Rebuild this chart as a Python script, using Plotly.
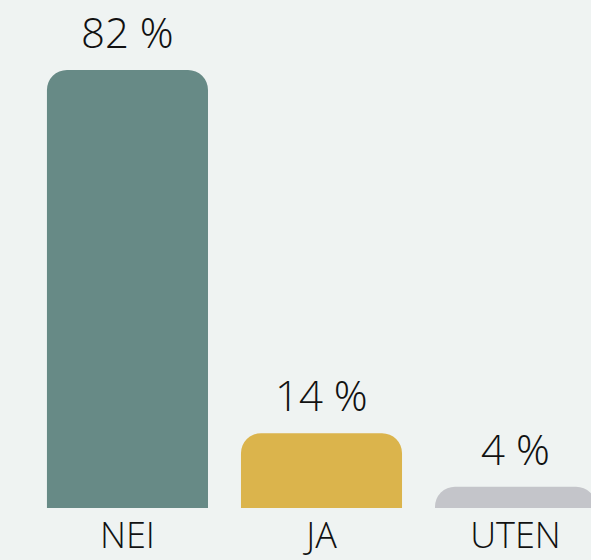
import plotly.graph_objects as go

categories = ["NEI", "JA", "UTEN"]
values = [82, 14, 4]
labels = ["82 %", "14 %", "4 %"]
colors = ["#678a86", "#dbb44c", "#c4c5ca"]

FONT = "Open Sans Light, Open Sans"

fig = go.Figure(go.Bar(
    x=categories, y=values,
    marker=dict(color=colors, line=dict(width=0), cornerradius=20),
    width=0.83,
    hoverinfo="skip",
))

for c, v, t in zip(categories, values, labels):
    fig.add_annotation(x=c, y=v, text=t, showarrow=False, yanchor="bottom",
                       yshift=8, font=dict(family=FONT, size=42, color="#111111", weight=300))

fig.update_layout(
    width=591, height=560,
    margin=dict(l=0, r=0, t=0, b=52),
    paper_bgcolor="#eff3f2", plot_bgcolor="#eff3f2",
    showlegend=False,
    xaxis=dict(range=[-0.657, 2.389], showgrid=False, zeroline=False, showline=False,
               automargin=False,
               ticks="", tickfont=dict(family=FONT, size=36, color="#111111", weight=300),
               ticklabelstandoff=3),
    yaxis=dict(range=[0, 95.1], visible=False, automargin=False),
)
fig.write_html("out.html")
